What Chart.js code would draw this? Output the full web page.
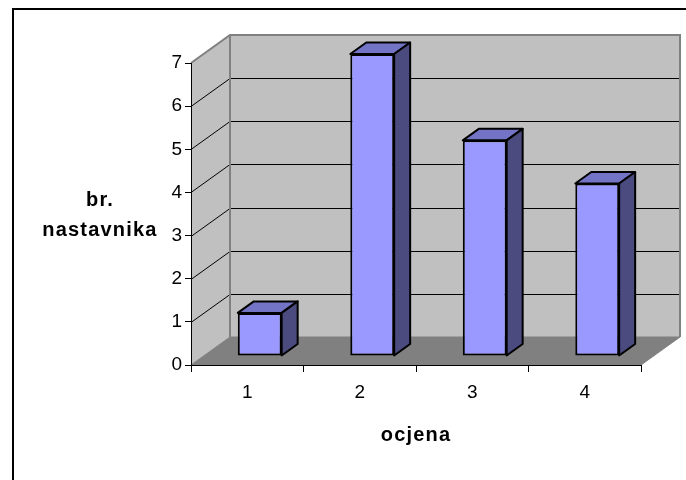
<!DOCTYPE html>
<html>
<head>
<meta charset="utf-8">
<script src="https://cdn.jsdelivr.net/npm/chart.js@4.4.1/dist/chart.umd.min.js"></script>
<style>
    html, body { margin: 0; padding: 0; background: #fff; }
    #wrap { width: 686px; height: 480px; }
</style>
</head>
<body>
<div id="wrap"><canvas id="chart"></canvas></div>
<script>
'use strict';

const categories = ['1', '2', '3', '4'];
const teacherCounts = [1, 7, 5, 4];
const yTickMin = 0;
const yTickMax = 7;
const yTickStep = 1;
const xTitle = 'ocjena';
const yTitleLines = ['br.', 'nastavnika'];

// depth vector of the 3d box (back wall offset from front plane)
const DX = 39, DY = -28;
const BAR_FRONT = 0.32, BAR_DEPTH = 0.41;
const FONT = '"Liberation Sans", Arial, sans-serif';

function poly(ctx, pts, fill, stroke, lw) {
    ctx.beginPath();
    ctx.moveTo(pts[0][0], pts[0][1]);
    for (let i = 1; i < pts.length; i++) {
        ctx.lineTo(pts[i][0], pts[i][1]);
    }
    ctx.closePath();
    if (fill) {
        ctx.fillStyle = fill;
        ctx.fill();
    }
    if (stroke) {
        ctx.strokeStyle = stroke;
        ctx.lineWidth = lw || 1;
        ctx.stroke();
    }
}

const box3d = {
    id: 'box3d',
    beforeDraw: function (chart) {
        const ctx = chart.ctx;
        const a = chart.chartArea;
        const y = chart.scales.y;

        ctx.save();
        ctx.fillStyle = '#fff';
        ctx.fillRect(0, 0, chart.width, chart.height);

        // outer frame (only top and left are visible)
        ctx.strokeStyle = '#000';
        ctx.lineWidth = 2;
        ctx.beginPath();
        ctx.moveTo(13, 480);
        ctx.lineTo(13, 9);
        ctx.lineTo(686, 9);
        ctx.stroke();

        // walls
        poly(ctx, [[a.left + DX, a.top + DY], [a.right + DX, a.top + DY],
            [a.right + DX, a.bottom + DY], [a.left + DX, a.bottom + DY]], '#c0c0c0');
        poly(ctx, [[a.left, a.top], [a.left + DX, a.top + DY],
            [a.left + DX, a.bottom + DY], [a.left, a.bottom]], '#c0c0c0');

        // gridlines on side + back wall
        ctx.strokeStyle = '#000';
        ctx.lineWidth = 1;
        for (let v = yTickMin + yTickStep; v < yTickMax; v += yTickStep) {
            const py = Math.round(y.getPixelForValue(v)) + 0.5;
            ctx.beginPath();
            ctx.moveTo(a.left, py);
            ctx.lineTo(a.left + DX, py + DY);
            ctx.lineTo(a.right + DX, py + DY);
            ctx.stroke();
        }

        // wall outlines
        ctx.strokeStyle = '#808080';
        ctx.lineWidth = 2;
        ctx.beginPath();
        ctx.moveTo(a.left, a.top);
        ctx.lineTo(a.left + DX, a.top + DY);
        ctx.lineTo(a.right + DX, a.top + DY);
        ctx.lineTo(a.right + DX, a.bottom + DY);
        ctx.moveTo(a.left + DX, a.top + DY);
        ctx.lineTo(a.left + DX, a.bottom + DY);
        ctx.stroke();

        // floor
        poly(ctx, [[a.left, a.bottom], [a.right, a.bottom],
            [a.right + DX, a.bottom + DY], [a.left + DX, a.bottom + DY]], '#808080', '#808080', 1);
        ctx.restore();
    },
    beforeDatasetsDraw: function (chart) {
        chart.ctx.save();
        chart.ctx.translate(DX * BAR_FRONT, DY * BAR_FRONT);
    },
    afterDatasetsDraw: function (chart) {
        const ctx = chart.ctx;
        ctx.restore();
        const ox = DX * BAR_FRONT, oy = DY * BAR_FRONT;
        const bx = DX * BAR_DEPTH, by = DY * BAR_DEPTH;

        ctx.save();
        ctx.lineJoin = 'round';
        chart.getDatasetMeta(0).data.forEach(function (bar) {
            const p = bar.getProps(['x', 'y', 'base', 'width'], true);
            const x0 = p.x - p.width / 2 + ox;
            const x1 = p.x + p.width / 2 + ox;
            const top = p.y + oy;
            const bot = p.base + oy;
            poly(ctx, [[x0, top], [x1, top], [x1 + bx, top + by], [x0 + bx, top + by]],
                '#7474c6', '#000', 2);
            poly(ctx, [[x1, top], [x1 + bx, top + by], [x1 + bx, bot + by], [x1, bot]],
                '#4b4b80', '#000', 2);
        });
        ctx.restore();
    },
    afterDraw: function (chart) {
        const ctx = chart.ctx;
        const a = chart.chartArea;
        ctx.save();
        ctx.fillStyle = '#000';
        ctx.font = 'bold 20px ' + FONT;
        ctx.letterSpacing = '1.2px';
        ctx.textAlign = 'center';
        ctx.textBaseline = 'middle';
        ctx.fillText(yTitleLines[0], 100, 200);
        ctx.fillText(yTitleLines[1], 100, 230);
        ctx.fillText(xTitle, (a.left + a.right) / 2, 435);
        ctx.restore();
    }
};

new Chart(document.getElementById('chart'), {
    type: 'bar',
    data: {
        labels: categories,
        datasets: [{
            data: teacherCounts,
            backgroundColor: '#9999ff',
            borderColor: '#000',
            borderWidth: 2,
            borderSkipped: false,
            barPercentage: 0.39,
            categoryPercentage: 1,
            clip: false
        }]
    },
    options: {
        responsive: true,
        maintainAspectRatio: false,
        animation: false,
        devicePixelRatio: 1,
        layout: {
            padding: {top: 63, right: 45, left: 0, bottom: 0}
        },
        plugins: {
            legend: {display: false},
            tooltip: {enabled: false}
        },
        scales: {
            x: {
                afterFit: function (scale) {
                    scale.height = 115;
                },
                grid: {
                    offset: true,
                    drawOnChartArea: false,
                    tickLength: 7,
                    color: '#000'
                },
                border: {color: '#000', width: 1},
                ticks: {
                    padding: 9,
                    color: '#000',
                    font: {family: FONT, size: 19}
                }
            },
            y: {
                min: yTickMin,
                max: yTickMax,
                afterFit: function (scale) {
                    scale.width = 191;
                },
                grid: {
                    drawOnChartArea: false,
                    tickLength: 6,
                    color: '#000'
                },
                border: {color: '#000', width: 1},
                ticks: {
                    stepSize: yTickStep,
                    padding: 3,
                    color: '#000',
                    font: {family: FONT, size: 19}
                }
            }
        }
    },
    plugins: [box3d]
});
</script>
</body>
</html>
